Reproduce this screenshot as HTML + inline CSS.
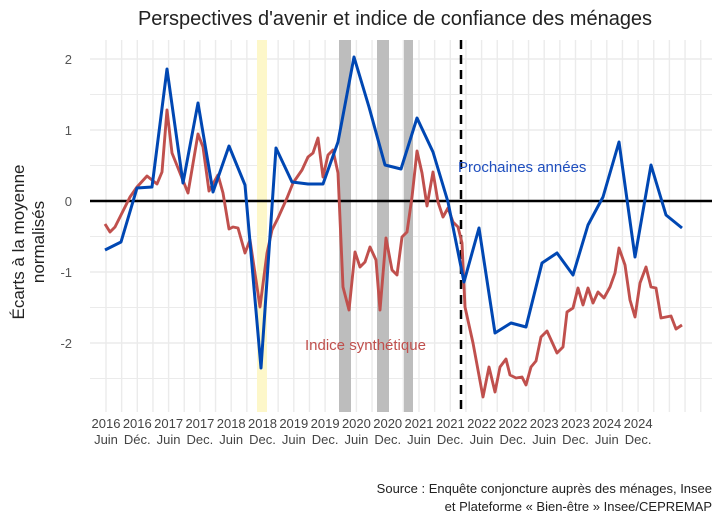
<!DOCTYPE html>
<html><head><meta charset="utf-8"><style>
body{margin:0;background:#fff;}
svg{display:block;font-family:"Liberation Sans",sans-serif;}
</style></head><body>
<svg width="720" height="523" viewBox="0 0 720 523">
<rect width="720" height="523" fill="#fff"/>
<g stroke="#ebebeb" stroke-width="1">
<line x1="90" x2="712" y1="94.5" y2="94.5"/><line x1="90" x2="712" y1="165.5" y2="165.5"/><line x1="90" x2="712" y1="236.5" y2="236.5"/><line x1="90" x2="712" y1="307.5" y2="307.5"/><line x1="90" x2="712" y1="378.5" y2="378.5"/>
</g>
<g stroke="#ebebeb" stroke-width="1.6">
<line x1="90" x2="712" y1="59" y2="59"/><line x1="90" x2="712" y1="130" y2="130"/><line x1="90" x2="712" y1="272" y2="272"/><line x1="90" x2="712" y1="343" y2="343"/>
</g>
<g stroke="#ebebeb" stroke-width="1.4" id="vg"></g>
<rect x="257" y="40" width="10" height="372" fill="#fdf7c9"/>
<rect x="339" y="40" width="12" height="372" fill="#bdbdbd"/>
<rect x="377" y="40" width="12" height="372" fill="#bdbdbd"/>
<rect x="404" y="40" width="9" height="372" fill="#bdbdbd"/>
<line x1="90" x2="712" y1="201" y2="201" stroke="#000" stroke-width="2.5"/>
<line x1="461" x2="461" y1="40" y2="412" stroke="#000" stroke-width="2.5" stroke-dasharray="9,6"/>
<polyline fill="none" stroke="#c0504d" stroke-width="2.9" stroke-linejoin="round" points="105,224 110,232 115,227 122,213 130,197 137,187 147,176 157,184 162,172 167,110 172,153 180,173 188,193 198,134 203,147 209,191 218,175 223,193 229,229 233,227 238,228 245,253 250,240 260,307 267,253 272,230 278,218 287,198 293,183 302,170 308,157 313,153 318,138 323,177 328,155 333,150 338,173 343,287 349,310 355,252 360,267 365,262 370,247 376,260 380,310 386,238 392,270 397,275 402,237 407,232 412,197 417,151 422,173 427,206 433,172 438,202 443,217 448,208 453,222 458,227 462,243 465,307 473,343 483,397 489,367 495,392 500,367 506,359 510,375 516,378 522,377 526,385 531,367 536,361 541,337 547,331 557,353 563,347 567,312 573,308 578,288 583,305 588,288 593,303 598,292 604,298 610,287 615,273 619,248 625,265 630,300 635,317 640,283 646,267 651,287 656,288 661,318 671,316 676,329 682,325"/>
<polyline fill="none" stroke="#0047b3" stroke-width="3" stroke-linejoin="round" points="105,250 121,242 137,188 152,187 167,69 183,183 198,103 213,192 229,146 245,185 261,368 276,148 292,182 308,184 323,184 338,142 354,57 369,107 385,165 401,169 417,118 433,152 448,202 464,282 479,228 495,333 511,323 526,327 542,263 557,253 573,275 588,225 603,197 619,142 635,257 651,165 666,215 682,228"/>
<text x="458" y="172" font-size="15" fill="#1f4fbf">Prochaines années</text>
<text x="305" y="350" font-size="15" fill="#c0504d">Indice synthétique</text>
<text x="395" y="25" font-size="20" fill="#222" text-anchor="middle">Perspectives d'avenir et indice de confiance des ménages</text>
<g font-size="13" fill="#555" text-anchor="end">
<text x="72" y="64">2</text><text x="72" y="135">1</text><text x="72" y="206">0</text><text x="72" y="277">-1</text><text x="72" y="348">-2</text>
</g>
<text transform="translate(24,242) rotate(-90)" font-size="17" fill="#222" text-anchor="middle">Écarts à la moyenne</text>
<text transform="translate(44,242) rotate(-90)" font-size="17" fill="#222" text-anchor="middle">normalisés</text>
<g font-size="13" fill="#444" text-anchor="middle" id="xl"></g>
<text x="712" y="493" font-size="13" fill="#222" text-anchor="end">Source : Enquête conjoncture auprès des ménages, Insee</text>
<text x="712" y="511" font-size="13" fill="#222" text-anchor="end">et Plateforme « Bien-être » Insee/CEPREMAP</text>
<script>
var ns="http://www.w3.org/2000/svg",vg=document.getElementById("vg"),xl=document.getElementById("xl");
for(var i=0;i<40;i++){var x=106+i*15.65;if(x>712)break;var l=document.createElementNS(ns,"line");l.setAttribute("x1",x);l.setAttribute("x2",x);l.setAttribute("y1",40);l.setAttribute("y2",412);vg.appendChild(l);}
for(var k=0;k<18;k++){var x=106+k*31.3,y=2016+Math.floor(k/2),m=k%2?(k==1?"Déc.":"Dec."):"Juin";
var t=document.createElementNS(ns,"text");t.setAttribute("x",x);t.setAttribute("y",428);t.textContent=y;xl.appendChild(t);
t=document.createElementNS(ns,"text");t.setAttribute("x",x);t.setAttribute("y",444);t.textContent=m;xl.appendChild(t);}
</script>
</svg>
</body></html>
